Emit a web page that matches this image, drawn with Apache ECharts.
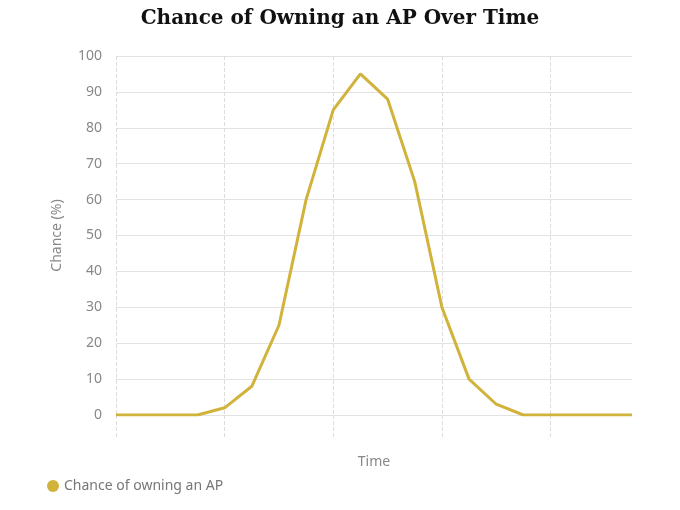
<!DOCTYPE html>
<html>
<head>
<meta charset="utf-8">
<script src="https://cdn.jsdelivr.net/npm/echarts@6/dist/echarts.min.js"></script>
<style>html,body{margin:0;background:#fff}#c{width:680px;height:510px}</style>
</head>
<body>
<div id="c"></div>
<script>
var timeSteps = ['0','1','2','3','4','5','6','7','8','9','10','11','12','13','14','15','16','17','18','19'];
var chanceValues = [0, 0, 0, 0, 2, 8, 25, 60, 85, 95, 88, 65, 30, 10, 3, 0, 0, 0, 0, 0];
var yTicks = [0, 100, 10];

var chart = echarts.init(document.getElementById('c'));
chart.setOption({
  title: {
    text: 'Chance of Owning an AP Over Time',
    left: 'center',
    top: 4,
    textStyle: {fontFamily: 'DejaVu Serif', fontWeight: 'bold', fontSize: 20, color: '#111'}
  },
  legend: {
    data: ['Chance of owning an AP'],
    left: 42,
    bottom: 12,
    icon: 'circle',
    itemWidth: 12,
    itemHeight: 12,
    textStyle: {fontFamily: 'Noto Sans', fontSize: 14, color: '#777'}
  },
  grid: {left: 116, right: 48, top: 56, bottom: 95},
  xAxis: {
    type: 'category',
    data: timeSteps,
    boundaryGap: false,
    name: 'Time',
    nameLocation: 'middle',
    nameGap: 40,
    nameTextStyle: {fontFamily: 'Noto Sans', fontSize: 14, color: '#888'},
    axisLine: {show: false},
    axisLabel: {show: false},
    axisTick: {show: true, interval: 3, length: 22, lineStyle: {color: '#ddd', type: 'dashed'}},
    splitLine: {show: true, interval: 3, lineStyle: {color: '#ddd', type: 'dashed'}}
  },
  yAxis: {
    type: 'value',
    min: yTicks[0],
    max: yTicks[1],
    interval: yTicks[2],
    name: 'Chance (%)',
    nameLocation: 'middle',
    nameGap: 52,
    nameTextStyle: {fontFamily: 'Noto Sans', fontSize: 14, color: '#888'},
    axisLabel: {fontFamily: 'Noto Sans', fontSize: 14, color: '#888', margin: 14},
    splitLine: {lineStyle: {color: '#e2e2e2'}}
  },
  series: [{
    name: 'Chance of owning an AP',
    type: 'line',
    data: chanceValues,
    symbol: 'none',
    lineStyle: {color: '#d1b23a', width: 3},
    itemStyle: {color: '#d1b23a'}
  }]
});
</script>
</body>
</html>
